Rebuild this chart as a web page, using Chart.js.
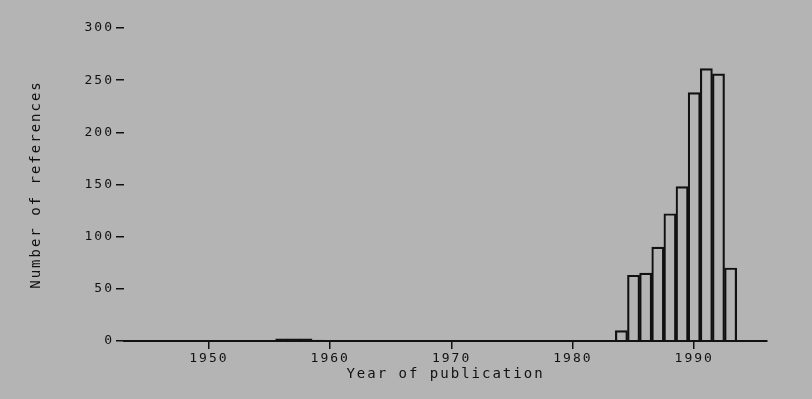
<!DOCTYPE html>
<html>
<head>
<meta charset="utf-8">
<script src="https://cdn.jsdelivr.net/npm/chart.js@4/dist/chart.umd.min.js"></script>
<style>
  html, body { margin: 0; padding: 0; background: #b4b4b4; }
  #wrap { width: 812px; height: 399px; }
</style>
</head>
<body>
<div id="wrap"><canvas id="refChart"></canvas></div>
<script>
var years = [1943, 1944, 1945, 1946, 1947, 1948, 1949, 1950, 1951, 1952, 1953, 1954, 1955,
  1956, 1957, 1958, 1959, 1960, 1961, 1962, 1963, 1964, 1965, 1966, 1967, 1968, 1969,
  1970, 1971, 1972, 1973, 1974, 1975, 1976, 1977, 1978, 1979, 1980, 1981, 1982, 1983,
  1984, 1985, 1986, 1987, 1988, 1989, 1990, 1991, 1992, 1993, 1994, 1995, 1996];
var counts = [null, 0, 0, 0, 0, 0, 0, 0, 0, 0, 0, 0, 0,
  2, 2, 2, 1, 0, 0, 0, 0, 0, 0, 0, 0, 0, 0,
  0, 0, 0, 0, 0, 0, 0, 0, 0, 0, 0, 0, 0, 0,
  10, 63, 65, 90, 122, 148, 238, 261, 256, 70, null, null, null];
var xTicks = [1950, 1960, 1970, 1980, 1990];
var yTicks = [0, 50, 100, 150, 200, 250, 300];

var ink = '#111';
var mono = 'DejaVu Sans Mono';

// the old plotter font is spaced out, so widen the letters a bit
var spacing = {
  id: 'spacing',
  beforeUpdate: function(chart) { chart.ctx.letterSpacing = '2px'; },
  beforeDraw: function(chart) {
    var ctx = chart.ctx;
    ctx.letterSpacing = '2px';
    ctx.save();
    ctx.fillStyle = '#b4b4b4';
    ctx.fillRect(0, 0, chart.width, chart.height);
    ctx.restore();
  }
};

function isDecade(ctx) {
  return xTicks.indexOf(years[ctx.index]) >= 0;
}

new Chart(document.getElementById('refChart'), {
  type: 'bar',
  data: {
    labels: years,
    datasets: [{
      data: counts,
      backgroundColor: 'rgba(0,0,0,0)',
      borderColor: ink,
      borderWidth: 1.5,
      barPercentage: 1,
      categoryPercentage: 1
    }]
  },
  options: {
    responsive: true,
    maintainAspectRatio: false,
    animation: false,
    layout: { padding: { left: 20, right: 45, top: 28, bottom: 16 } },
    plugins: { legend: { display: false }, tooltip: { enabled: false } },
    scales: {
      x: {
        offset: false,
        afterFit: function(s) { s.height = 42; },
        border: { display: true, color: ink, width: 2 },
        grid: {
          offset: false, drawOnChartArea: false, drawTicks: true, tickLength: 8, lineWidth: 1.5,
          color: function(c) { return isDecade(c) ? ink : 'rgba(0,0,0,0)'; }
        },
        ticks: {
          color: ink, padding: 2, maxRotation: 0, autoSkip: false,
          font: { family: mono, size: 13 },
          callback: function(v, i) { return xTicks.indexOf(years[i]) >= 0 ? String(years[i]) : ''; }
        },
        title: {
          display: true, text: 'Year of publication', color: ink,
          font: { family: mono, size: 14 }, padding: { top: 0, bottom: 0 }
        }
      },
      y: {
        min: 0,
        max: 300,
        afterBuildTicks: function(s) { s.ticks = yTicks.map(function(v) { return {value: v}; }); },
        afterFit: function(s) { s.width = 104; },
        border: { display: false },
        grid: { drawOnChartArea: false, drawTicks: true, tickLength: 8, color: ink, lineWidth: 1.5 },
        ticks: { color: ink, padding: 2, font: { family: mono, size: 13 } },
        title: {
          display: true, text: 'Number of references', color: ink,
          font: { family: mono, size: 14 }, padding: { top: 8, bottom: 0 }
        }
      }
    }
  },
  plugins: [spacing]
});
</script>
</body>
</html>
